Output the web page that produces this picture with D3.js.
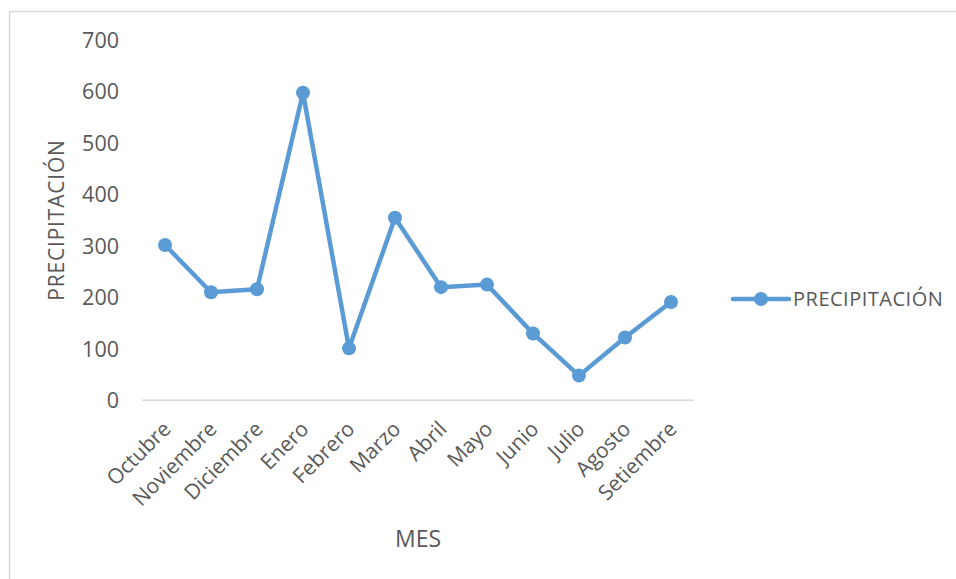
<!DOCTYPE html>
<html>
<head>
<meta charset="utf-8">
<script src="https://cdn.jsdelivr.net/npm/d3@7"></script>
<style>
    body { margin: 0; background: #fff; }
    text { font-family: "Open Sans", sans-serif; fill: #595959; }
</style>
</head>
<body>
<svg width="956" height="579"></svg>
<script>
// data
var months = ['Octubre', 'Noviembre', 'Diciembre', 'Enero', 'Febrero', 'Marzo',
    'Abril', 'Mayo', 'Junio', 'Julio', 'Agosto', 'Setiembre'];
var rain = [302, 210, 216, 598, 101, 355, 220, 225, 130, 48, 122, 191];
var yTicks = [0, 100, 200, 300, 400, 500, 600, 700];
var seriesName = 'PRECIPITACIÓN';

var svg = d3.select('svg');
var blue = '#5b9bd5';

// chart area frame (only left/top visible)
svg.append('path')
    .attr('d', 'M9.5,579 V11.5 H956')
    .attr('fill', 'none')
    .attr('stroke', '#d9d9d9')
    .attr('stroke-width', 1.5);

var padding = { t: 40.3, l: 142, r: 694, b: 400.3 };

var x = d3.scaleBand().domain(months).range([padding.l, padding.r]);
var y = d3.scaleLinear().domain([0, 700]).range([padding.b, padding.t]);

// y tick labels
svg.append('g').selectAll('text')
    .data(yTicks)
    .enter().append('text')
    .attr('x', 119)
    .attr('y', d => y(d))
    .attr('dy', '0.36em')
    .attr('text-anchor', 'end')
    .style('font-size', '21.5px')
    .text(d => d);

// baseline
svg.append('line')
    .attr('x1', padding.l).attr('x2', padding.r)
    .attr('y1', y(0)).attr('y2', y(0))
    .attr('stroke', '#d9d9d9')
    .attr('stroke-width', 1.5);

// x labels
svg.append('g').selectAll('text')
    .data(months)
    .enter().append('text')
    .attr('transform', d => 'translate(' + [x(d) + x.bandwidth() / 2 + 7, y(0) + 30] + ') rotate(-45)')
    .attr('text-anchor', 'end')
    .style('font-size', '21px')
    .text(d => d);

// line + markers
var line = d3.line()
    .x((d, i) => x(months[i]) + x.bandwidth() / 2)
    .y(d => y(d));

svg.append('path')
    .datum(rain)
    .attr('d', line)
    .attr('fill', 'none')
    .attr('stroke', blue)
    .attr('stroke-width', 4.5)
    .attr('stroke-linejoin', 'round');

svg.append('g').selectAll('circle')
    .data(rain)
    .enter().append('circle')
    .attr('cx', (d, i) => x(months[i]) + x.bandwidth() / 2)
    .attr('cy', d => y(d))
    .attr('r', 7)
    .attr('fill', blue);

// axis titles
svg.append('text')
    .attr('transform', 'translate(64,220) rotate(-90)')
    .attr('text-anchor', 'middle')
    .style('font-size', '21px')
    .style('letter-spacing', '0.8px')
    .text(seriesName);

svg.append('text')
    .attr('x', (padding.l + padding.r) / 2)
    .attr('y', 547)
    .attr('text-anchor', 'middle')
    .style('font-size', '23px')
    .text('MES');

// legend
var leg = svg.append('g').attr('transform', 'translate(733,299)');
leg.append('line')
    .attr('x1', 0).attr('x2', 56)
    .attr('stroke', blue).attr('stroke-width', 4.5)
    .attr('stroke-linecap', 'round');
leg.append('circle').attr('cx', 28).attr('r', 7).attr('fill', blue);
leg.append('text')
    .attr('x', 60)
    .attr('dy', '0.36em')
    .style('font-size', '20px')
    .style('letter-spacing', '0.5px')
    .text(seriesName);
</script>
</body>
</html>
